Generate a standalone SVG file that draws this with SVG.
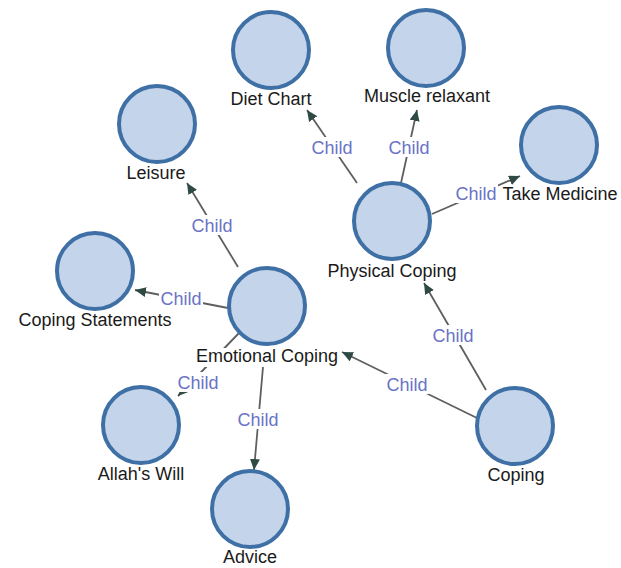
<svg xmlns="http://www.w3.org/2000/svg" width="621" height="568" viewBox="0 0 621 568">
<defs>
<style>
.node circle{fill:#c4d4ea;stroke:#3e70a6;stroke-width:4}
.lbl{font-family:"Liberation Sans",Arial,sans-serif;font-size:18px;fill:#1a1a1a;text-anchor:middle}
.el{font-family:"Liberation Sans",Arial,sans-serif;font-size:18px;fill:#6a73c6;text-anchor:middle}
.bg{fill:#ffffff}
.edge{stroke:#5f5f5f;stroke-width:1.8;fill:none;marker-end:url(#arr)}
</style>
<marker id="arr" markerUnits="userSpaceOnUse" markerWidth="12" markerHeight="10" refX="11" refY="5" orient="auto">
<path d="M0,0 L11,5 L0,10 z" fill="#2f4a44"/>
</marker>
</defs>
<rect width="621" height="568" fill="#ffffff"/>
<g id="connectors">
<line class="edge" x1="357" y1="183" x2="307" y2="110"/>
<line class="edge" x1="401" y1="183" x2="417" y2="110"/>
<line class="edge" x1="432" y1="214" x2="520" y2="176"/>
<line class="edge" x1="238" y1="267" x2="187" y2="183"/>
<line class="edge" x1="228" y1="308" x2="135" y2="290"/>
<line class="edge" x1="239" y1="333" x2="178" y2="396"/>
<line class="edge" x1="263" y1="367" x2="254" y2="470"/>
<line class="edge" x1="477" y1="418" x2="342" y2="352"/>
<line class="edge" x1="486" y1="390" x2="424" y2="283"/>
<g>
<rect class="bg" x="310" y="137" width="44" height="20"/><text class="el" x="332" y="153.5">Child</text>
<rect class="bg" x="387" y="137" width="44" height="20"/><text class="el" x="409" y="153.5">Child</text>
<rect class="bg" x="454" y="183" width="44" height="20"/><text class="el" x="476" y="199.5">Child</text>
<rect class="bg" x="190" y="215" width="44" height="20"/><text class="el" x="212" y="231.5">Child</text>
<rect class="bg" x="159" y="288" width="44" height="20"/><text class="el" x="181" y="304.5">Child</text>
<rect class="bg" x="176" y="372" width="44" height="20"/><text class="el" x="198" y="388.5">Child</text>
<rect class="bg" x="236" y="409" width="44" height="20"/><text class="el" x="258" y="425.5">Child</text>
<rect class="bg" x="385" y="374" width="44" height="20"/><text class="el" x="407" y="390.5">Child</text>
<rect class="bg" x="431" y="325" width="44" height="20"/><text class="el" x="453" y="341.5">Child</text>
</g>
</g>
<g id="diet-chart" class="node"><circle cx="271" cy="50" r="38"/><text class="lbl" x="271" y="105">Diet Chart</text></g>
<g id="muscle-relaxant" class="node"><circle cx="426" cy="48" r="38"/><text class="lbl" x="427" y="102">Muscle relaxant</text></g>
<g id="leisure" class="node"><circle cx="157" cy="124" r="38"/><text class="lbl" x="156" y="179">Leisure</text></g>
<g id="take-medicine" class="node"><circle cx="559" cy="145" r="38"/><text class="lbl" x="560" y="200">Take Medicine</text></g>
<g id="physical-coping" class="node"><circle cx="392" cy="221" r="38"/><text class="lbl" x="392" y="277">Physical Coping</text></g>
<g id="coping-statements" class="node"><circle cx="95" cy="271" r="38"/><text class="lbl" x="95" y="326">Coping Statements</text></g>
<g id="emotional-coping" class="node"><circle cx="267" cy="306" r="38"/><rect class="bg" x="194" y="348" width="145" height="19"/><text class="lbl" x="267" y="362">Emotional Coping</text></g>
<g id="allahs-will" class="node"><circle cx="141" cy="425" r="38"/><text class="lbl" x="141" y="480">Allah's Will</text></g>
<g id="advice" class="node"><circle cx="250" cy="509" r="38"/><text class="lbl" x="250" y="563">Advice</text></g>
<g id="coping" class="node"><circle cx="515" cy="426" r="38"/><text class="lbl" x="516" y="481">Coping</text></g>
</svg>
